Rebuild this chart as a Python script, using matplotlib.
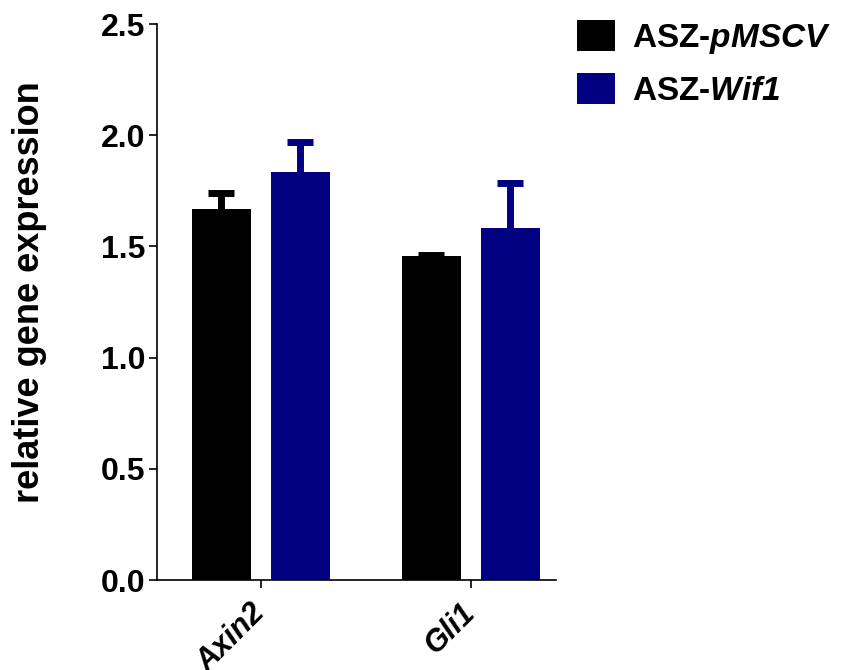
import matplotlib
matplotlib.use("Agg")
import matplotlib.pyplot as plt
import numpy as np

categories = ["Axin2", "Gli1"]
series_names = ["ASZ-$\\mathrm{pMSCV}$", "ASZ-$\\mathrm{Wif1}$"]
pmscv_values = [1.667, 1.458]
pmscv_err = [0.075, 0.005]
wif1_values = [1.833, 1.584]
wif1_err = [0.136, 0.201]
colors = ["#000000", "#000080"]
yticks = [0.0, 0.5, 1.0, 1.5, 2.0, 2.5]
ytick_labels = ["0.0", "0.5", "1.0", "1.5", "2.0", "2.5"]

plt.rcParams["font.family"] = ["Liberation Sans", "DejaVu Sans"]
plt.rcParams["font.weight"] = "bold"
plt.rcParams["mathtext.fontset"] = "custom"
plt.rcParams["mathtext.it"] = "Liberation Sans:italic:bold"
plt.rcParams["mathtext.rm"] = "Liberation Sans:italic:bold"
plt.rcParams["mathtext.bf"] = "Liberation Sans:italic:bold"

fig = plt.figure(figsize=(8.42, 6.70), dpi=100)
ax = fig.add_axes([157/842, 90/670, (556-157)/842, (580-24)/670])

x = np.arange(len(categories))
width = 0.281
offset = 0.188

for vals, errs, col, name, sign in [
    (pmscv_values, pmscv_err, colors[0], series_names[0], -1),
    (wif1_values, wif1_err, colors[1], series_names[1], 1),
]:
    xs = x + sign * offset
    ax.bar(xs, vals, width=width, color=col, label=name, zorder=2)
    eb = ax.errorbar(xs, vals, yerr=[np.zeros(len(vals)), errs], fmt="none",
                     ecolor=col, elinewidth=5, capsize=9.4, capthick=5, zorder=1)
    caps = eb[1]
    if len(caps) == 2:
        caps[0].set_visible(False)

ax.set_xlim(-0.495, 1.405)
ax.set_ylim(0, 2.5)
ax.set_yticks(yticks)
ax.set_yticklabels(ytick_labels, fontsize=23, fontweight="bold")
ax.set_xticks(x)
ax.set_xticklabels(categories, fontsize=22, fontweight="bold", fontstyle="italic",
                   rotation=45, ha="right", va="center", rotation_mode="anchor")

for s in ["top", "right"]:
    ax.spines[s].set_visible(False)
for s in ["left", "bottom"]:
    ax.spines[s].set_linewidth(1.2)
ax.tick_params(axis="y", length=5.5, width=1.2, pad=3)
ax.tick_params(axis="x", length=5.5, width=1.2, pad=15)

ax.set_ylabel("relative gene expression", fontsize=26, fontweight="bold")
ax.yaxis.label.set_va("center")
ax.yaxis.set_label_coords((30-157)/399, (580-292.5)/556)

leg = ax.legend(loc="upper left", bbox_to_anchor=(577/842, 1-20/670),
                bbox_transform=fig.transFigure, frameon=False, fontsize=24,
                handlelength=1.15, handleheight=1.06, handletextpad=0.5,
                labelspacing=0.5, borderaxespad=0, borderpad=0)
for t in leg.get_texts():
    t.set_fontweight("bold")

fig.savefig("out.png", dpi=100)
